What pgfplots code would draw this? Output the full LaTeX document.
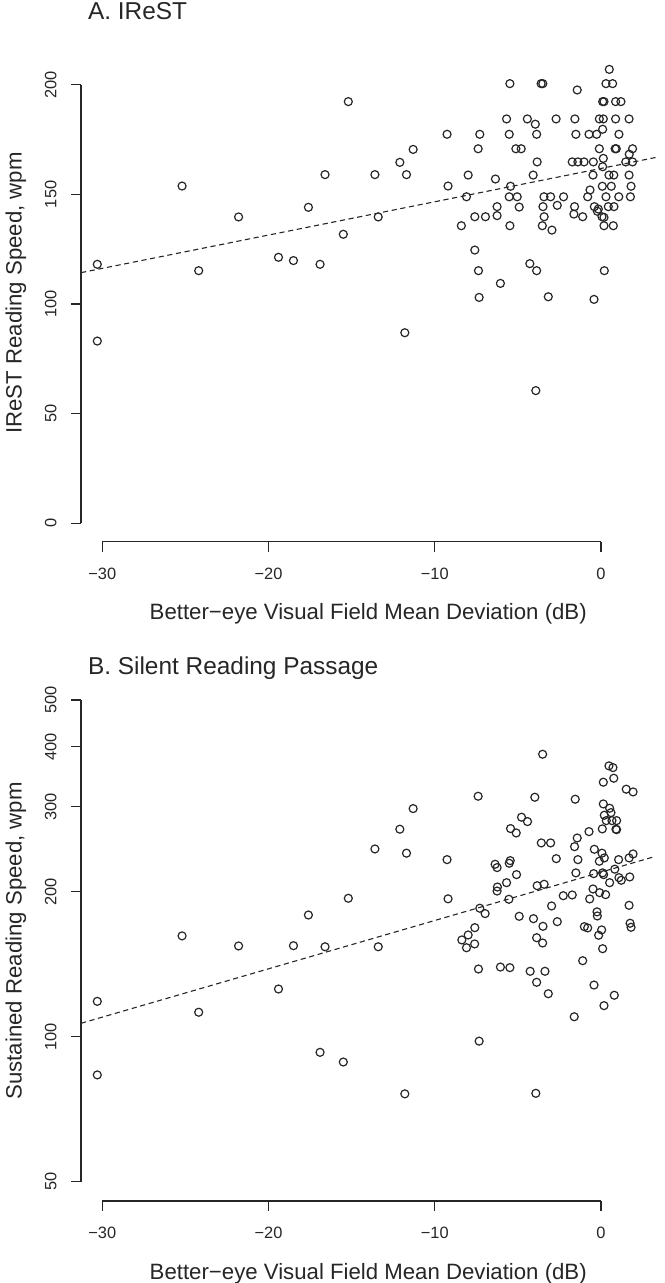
\documentclass[border=0pt]{standalone}
\usepackage{fontspec}
\setmainfont{Liberation Sans}
\usepackage{pgfplots}
\pgfplotsset{compat=1.18}
\definecolor{ink}{HTML}{262626}

\pgfplotsset{
  rpanel/.style={
    scale only axis,
    width=287.25pt,
    xmin=-31.28, xmax=3.28,
    axis line style={draw=none},
    xtick={-30,-20,-10,0},
    xticklabels={−30,−20,−10,0},
    xtick pos=bottom, ytick pos=left,
    tick align=outside,
    major tick length=5pt,
    tick style={ink, line width=0.6pt},
    ticklabel style={font=\fontsize{8.2}{10}\selectfont, text=ink},
    yticklabel style={rotate=90, anchor=south},
    xticklabel style={anchor=north},
    xticklabel shift=4.5pt,
    yticklabel shift=3.75pt,
    every axis x label/.style={at={(axis description cs:0.5,0)}, anchor=base, yshift=-39.15pt, font=\fontsize{11.1}{13}\selectfont, text=ink},
    every axis y label/.style={at={(axis description cs:0,0.5)}, anchor=center, xshift=-32.5pt, rotate=90, font=\fontsize{11.1}{13}\selectfont, text=ink},
    clip=false,
  },
  pts/.style={only marks, mark=o, mark size=2pt, mark options={ink, line width=0.6pt}},
  fit/.style={ink, line width=0.55pt, dash pattern=on 2.6pt off 1.8pt},
}

\begin{document}
\begin{tikzpicture}
\path[use as bounding box] (0,0) rectangle (332pt,641.5pt);

% ---------- Panel A ----------
\begin{axis}[rpanel, at={(40.5pt,370.65pt)}, anchor=south west,
  height=248.65pt, ymin=-8.4, ymax=218.4,
  ytick={0,50,100,150,200}, yticklabels={0,50,100,150,200},
  title={A. IReST},
  title style={at={(axis description cs:0,1)}, anchor=base west, yshift=6.2pt, font=\fontsize{12.2}{14}\selectfont, text=ink},
  xlabel={Better−eye Visual Field Mean Deviation (dB)},
  ylabel={IReST Reading Speed, wpm}]
\addplot[pts] coordinates {
(-30.3,118.1) (-30.3,83.1) (-25.2,153.8) (-24.2,115.2) (-21.8,139.7)
(-19.4,121.3) (-18.5,119.8) (-17.6,144.1) (-16.9,118.1) (-16.6,159.0)
(-15.5,131.8) (-15.2,192.3) (-13.6,159.0) (-13.4,139.7) (-12.1,164.6)
(-11.7,159.0) (-11.8,86.9) (-11.3,170.5) (-9.2,153.8) (-9.26,177.4)
(-8.4,135.7) (-8.09,148.9) (-7.99,158.8) (-7.59,139.8) (-7.59,124.6)
(-7.39,170.8) (-7.37,115.2) (-7.33,103.0) (-7.29,177.4) (-6.95,139.8)
(-6.35,157.0) (-6.25,144.4) (-6.25,140.3) (-6.05,109.4) (-5.68,184.4)
(-5.52,177.4) (-5.48,200.5) (-5.48,135.7) (-5.52,148.9) (-5.44,153.7)
(-5.12,170.8) (-5.04,148.9) (-4.92,144.2) (-4.80,170.8) (-4.43,184.4)
(-4.28,118.4) (-4.08,158.8) (-3.95,182.0) (-3.87,177.4) (-3.87,115.2)
(-3.84,164.8) (-3.92,60.5) (-3.6,200.5) (-3.5,200.5) (-3.53,135.7)
(-3.49,144.4) (-3.43,148.9) (-3.42,139.8) (-3.17,103.3) (-3.03,148.9)
(-2.95,133.7) (-2.70,184.4) (-2.63,145.0) (-2.25,148.9) (-1.73,164.8)
(-1.63,141.0) (-1.59,144.4) (-1.57,184.4) (-1.51,177.4) (-1.43,197.6)
(-1.39,164.8) (-1.10,139.8) (-1.02,164.8) (-0.80,148.9) (-0.72,177.4)
(-0.66,152.0) (-0.48,158.8) (-0.46,164.8) (-0.42,102.1) (-0.40,144.4)
(-0.26,177.4) (-0.22,142.3) (-0.16,143.3) (-0.10,184.4) (-0.10,170.8)
(0.06,139.8) (0.08,153.7) (0.10,179.7) (0.10,162.6) (0.14,184.4)
(0.10,192.3) (0.18,192.3) (0.14,166.4) (0.18,139.5) (0.18,135.7)
(0.20,115.2) (0.30,200.5) (0.30,148.9) (0.44,144.4) (0.48,158.8)
(0.50,207.0) (0.62,153.7) (0.70,200.5) (0.74,135.7) (0.77,158.8)
(0.78,144.4) (0.88,192.3) (0.88,184.4) (0.85,170.8) (0.92,170.8)
(1.07,148.9) (1.08,177.4) (1.20,192.3) (1.49,164.8) (1.69,184.4)
(1.69,158.8) (1.70,168.3) (1.77,148.9) (1.81,153.7) (1.90,170.8)
(1.90,164.8)
};
\addplot[fit] coordinates {(-31.28,114.3) (3.28,166.8)};
\draw[ink, line width=0.6pt] (axis cs:-30,-8.4) -- (axis cs:0,-8.4);
\draw[ink, line width=0.6pt] (axis cs:-31.28,0) -- (axis cs:-31.28,200);
\end{axis}

% ---------- Panel B ----------
\begin{axis}[rpanel, at={(40.5pt,41pt)}, anchor=south west,
  height=260.15pt, ymode=log, ymin=45.6, ymax=548.3,
  ytick={50,100,200,300,400,500}, yticklabels={50,100,200,300,400,500},
  yminorticks=false,
  title={B. Silent Reading Passage},
  title style={at={(axis description cs:0,1)}, anchor=base west, yshift=-3.15pt, font=\fontsize{12.2}{14}\selectfont, text=ink},
  xlabel={Better−eye Visual Field Mean Deviation (dB)},
  ylabel={Sustained Reading Speed, wpm}]
\addplot[pts] coordinates {
(-30.3,83.3) (-30.3,118.4) (-25.2,161.9) (-24.2,112.4) (-21.8,154.3)
(-19.4,125.6) (-18.5,154.5) (-17.6,178.9) (-16.9,92.8) (-16.6,153.7)
(-15.5,88.6) (-15.2,193.8) (-13.6,245.3) (-13.4,153.7) (-12.1,269.6)
(-11.7,240.4) (-11.8,76.1) (-11.3,297.5) (-9.26,233.1) (-9.2,193.3)
(-8.37,158.8) (-8.09,153.0) (-7.99,162.6) (-7.6,155.8) (-7.59,168.4)
(-7.39,315.6) (-7.37,138.2) (-7.33,97.9) (-7.29,184.8) (-6.97,180.1)
(-6.37,228.0) (-6.25,224.4) (-6.23,204.5) (-6.25,200.6) (-6.05,139.5)
(-5.68,208.8) (-5.54,192.9) (-5.52,229.1) (-5.46,232.0) (-5.48,139.1)
(-5.44,270.4) (-5.10,264.8) (-5.08,217.0) (-4.92,177.8) (-4.78,285.5)
(-4.42,279.6) (-4.26,136.7) (-4.06,175.8) (-3.98,314.1) (-3.92,76.3)
(-3.87,160.5) (-3.87,129.7) (-3.84,205.8) (-3.59,252.5) (-3.51,385.8)
(-3.51,156.5) (-3.49,169.5) (-3.42,207.2) (-3.37,136.7) (-3.17,122.8)
(-3.03,252.5) (-2.97,186.8) (-2.69,234.2) (-2.63,173.3) (-2.27,196.2)
(-1.73,196.9) (-1.61,110.0) (-1.59,248.0) (-1.55,311.1) (-1.51,218.8)
(-1.43,258.5) (-1.39,233.1) (-1.10,143.8) (-1.00,169.2) (-0.80,168.2)
(-0.72,266.5) (-0.68,193.2) (-0.48,202.6) (-0.44,218.0) (-0.42,128.0)
(-0.40,244.9) (-0.24,181.6) (-0.22,178.1) (-0.14,162.4) (-0.10,231.3)
(-0.08,199.1) (0.04,166.6) (0.06,240.4) (0.08,270.0) (0.10,218.8)
(0.10,152.3) (0.14,337.5) (0.14,304.2) (0.16,217.0) (0.18,116.0)
(0.20,288.2) (0.20,235.0) (0.28,197.2) (0.32,280.9) (0.48,364.9)
(0.52,298.0) (0.52,208.8) (0.60,291.8) (0.66,280.9) (0.72,361.9)
(0.77,344.0) (0.80,121.9) (0.83,222.7) (0.90,269.6) (0.94,269.0)
(0.94,280.9) (1.06,233.1) (1.08,213.9) (1.22,211.2) (1.52,326.4)
(1.69,235.0) (1.69,187.4) (1.73,214.6) (1.75,172.0) (1.81,168.7)
(1.93,322.2) (1.93,239.5)
};
\addplot[fit] coordinates {(-31.28,106.6) (3.28,236.8)};
\draw[ink, line width=0.6pt] (axis cs:-30,45.6) -- (axis cs:0,45.6);
\draw[ink, line width=0.6pt] (axis cs:-31.28,50) -- (axis cs:-31.28,500);
\end{axis}
\end{tikzpicture}
\end{document}
